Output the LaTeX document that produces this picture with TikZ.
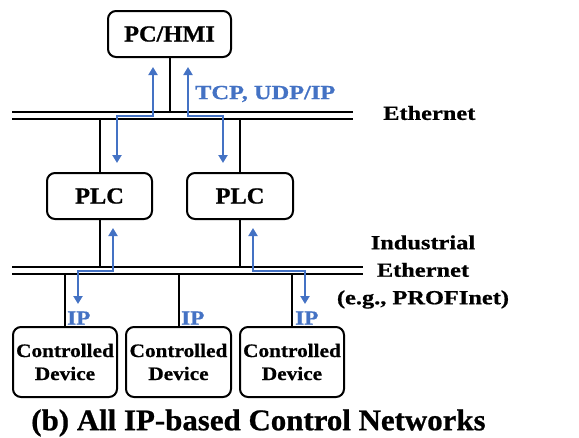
\documentclass[tikz,border=0pt]{standalone}
\usepackage{fontspec}
\setmainfont{Liberation Serif}
\newfontfamily\boxfont[FakeStretch=1.06,FakeBold=0.8]{Liberation Serif}
\newfontfamily\devfont[FakeStretch=1.12,FakeBold=0.8]{Liberation Serif}
\newfontfamily\netfont[FakeStretch=1.22,FakeBold=0.8]{Liberation Serif}
\newfontfamily\ipfont[FakeStretch=1.16,FakeBold=0.8]{Liberation Serif}
\newfontfamily\capfont[FakeStretch=1.03,FakeBold=0.8]{Liberation Serif}
\usetikzlibrary{arrows.meta}
\definecolor{netblue}{RGB}{68,114,196}
\begin{document}
\begin{tikzpicture}[x=1pt,y=-1pt,
  box/.style={draw, line width=2pt, rounded corners=8pt, inner sep=0pt, align=center},
  bigtxt/.style={font=\boxfont\bfseries\fontsize{23}{23}\selectfont},
  devtxt/.style={font=\devfont\bfseries\fontsize{19}{23}\selectfont},
  bus/.style={line width=2pt},
  tap/.style={line width=2pt},
  flow/.style={draw=netblue, line width=2pt, {Triangle[length=8pt,width=9pt]}-{Triangle[length=8pt,width=9pt]}},
  lbl/.style={font=\netfont\bfseries\fontsize{20}{20}\selectfont},
  iplbl/.style={font=\ipfont\bfseries\fontsize{20}{20}\selectfont, text=netblue, anchor=west, inner sep=0pt},
]
\useasboundingbox (0,0) rectangle (579,437);

% devices
\node[box, bigtxt, minimum width=123pt, minimum height=46pt] (hmi) at (169.5,34) {PC/HMI};
\node[box, bigtxt, minimum width=105pt, minimum height=46pt] (plcA) at (99.5,196) {PLC};
\node[box, bigtxt, minimum width=106pt, minimum height=46pt] (plcB) at (240,196) {PLC};
\node[box, devtxt, minimum width=104pt, minimum height=70pt] (devA) at (65,362) {Controlled\\Device};
\node[box, devtxt, minimum width=105pt, minimum height=70pt] (devB) at (178.5,362) {Controlled\\Device};
\node[box, devtxt, minimum width=104pt, minimum height=70pt] (devC) at (292,362) {Controlled\\Device};

% Ethernet bus
\draw[bus] (12,112) -- (353,112);
\draw[bus] (12,119) -- (353,119);
% Industrial Ethernet bus
\draw[bus] (12,267) -- (363,267);
\draw[bus] (12,274) -- (363,274);

% taps onto the buses
\coordinate (eHmi) at (hmi.south |- 0,112);
\coordinate (ePlcA) at (plcA.north |- 0,119);
\coordinate (ePlcB) at (plcB.north |- 0,119);
\coordinate (iPlcA) at (plcA.south |- 0,267);
\coordinate (iPlcB) at (plcB.south |- 0,267);
\coordinate (iDevA) at (devA.north |- 0,274);
\coordinate (iDevB) at (devB.north |- 0,274);
\coordinate (iDevC) at (devC.north |- 0,274);
\draw[tap] (hmi.south) -- (eHmi);
\draw[tap] (plcA.north) -- (ePlcA);
\draw[tap] (plcB.north) -- (ePlcB);
\draw[tap] (plcA.south) -- (iPlcA);
\draw[tap] (plcB.south) -- (iPlcB);
\draw[tap] (devA.north) -- (iDevA);
\draw[tap] (devB.north) -- (iDevB);
\draw[tap] (devC.north) -- (iDevC);

% IP traffic paths
\coordinate (f1a) at (153,67);  \coordinate (f1b) at (117,163);
\coordinate (f2a) at (188,67);  \coordinate (f2b) at (223,163);
\coordinate (f3a) at (113,228); \coordinate (f3b) at (78,304);
\coordinate (f4a) at (253,228); \coordinate (f4b) at (305,304);
\draw[flow] (f1a) -- (153,115.5) -- (117,115.5) -- (f1b);
\draw[flow] (f2a) -- (188,115.5) -- (223,115.5) -- (f2b);
\draw[flow] (f3a) -- (113,270.5) -- (78,270.5) -- (f3b);
\draw[flow] (f4a) -- (253,270.5) -- (305,270.5) -- (f4b);

% labels
\node[lbl, text=netblue, anchor=west, inner sep=0pt] (tcp) at (195,94) {TCP, UDP/IP};
\node[lbl, anchor=west, inner sep=0pt] (eth) at (383,113) {Ethernet};
\node[align=center, inner sep=0pt, font=\netfont\bfseries\fontsize{20}{27.5}\selectfont] (ieth) at (423,272) {Industrial\\Ethernet\\(e.g., PROFInet)};
\node[iplbl] (ipA) at (67,318) {IP};
\node[iplbl] (ipB) at (181,318) {IP};
\node[iplbl] (ipC) at (295,318) {IP};
\node[font=\capfont\bfseries\fontsize{30}{30}\selectfont, inner sep=0pt] (cap) at (258.5,423) {(b) All IP-based Control Networks};
\end{tikzpicture}
\end{document}
